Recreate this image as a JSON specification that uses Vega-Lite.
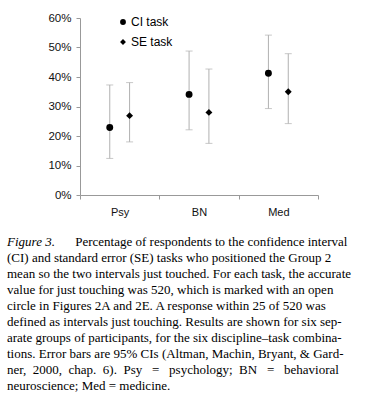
{
  "$schema": "https://vega.github.io/schema/vega-lite/v6.json",
  "width": 238,
  "height": 177,
  "autosize": {"type": "none"},
  "padding": {"left": 80, "top": 18, "right": 52, "bottom": 205},
  "background": "white",
  "config": {
    "view": {"stroke": null},
    "font": "Liberation Sans",
    "axisY": {
      "grid": false,
      "domainColor": "#999999",
      "tickColor": "#999999",
      "tickSize": 4,
      "labelFontSize": 11.5,
      "labelColor": "#111111",
      "labelFont": "Liberation Sans",
      "labelPadding": 5,
      "labelOverlap": false
    }
  },
  "title": {
    "text": "Figure 3.",
    "subtitle": [
      "\u200b\u00a0\u00a0\u00a0\u00a0\u00a0\u00a0\u00a0\u00a0\u00a0\u00a0\u00a0\u00a0\u00a0\u00a0\u00a0\u00a0\u00a0\u00a0\u00a0\u00a0\u00a0Percentage of respondents to the confidence interval",
      "(CI) and standard error (SE) tasks who positioned the Group 2",
      "mean so the two intervals just touched. For each task, the accurate",
      "value for just touching was 520, which is marked with an open",
      "circle in Figures 2A and 2E. A response within 25 of 520 was",
      "defined as intervals just touching. Results are shown for six sep-",
      "arate groups of participants, for the six discipline–task combina-",
      "tions. Error bars are 95% CIs (Altman, Machin, Bryant, & Gard-",
      "ner,\u00a0 2000,\u00a0 chap.\u00a0 6).\u00a0 Psy\u00a0\u00a0\u00a0=\u00a0\u00a0\u00a0psychology;\u00a0 BN\u00a0\u00a0\u00a0=\u00a0\u00a0\u00a0behavioral",
      "neuroscience; Med = medicine."
    ],
    "orient": "bottom",
    "anchor": "start",
    "frame": "group",
    "dx": -73,
    "offset": 19,
    "font": "Liberation Serif",
    "fontSize": 13,
    "fontStyle": "italic",
    "fontWeight": "normal",
    "color": "black",
    "subtitleFont": "Liberation Serif",
    "subtitleFontSize": 13,
    "subtitleFontStyle": "normal",
    "subtitleColor": "black",
    "subtitleLineHeight": 16,
    "subtitlePadding": -13
  },
  "data": {
    "values": [
      {"discipline": "Psy", "task": "CI task", "value": 0.229, "lo": 0.124, "hi": 0.373},
      {"discipline": "Psy", "task": "SE task", "value": 0.269, "lo": 0.180, "hi": 0.381},
      {"discipline": "BN", "task": "CI task", "value": 0.341, "lo": 0.221, "hi": 0.488},
      {"discipline": "BN", "task": "SE task", "value": 0.280, "lo": 0.175, "hi": 0.427},
      {"discipline": "Med", "task": "CI task", "value": 0.413, "lo": 0.293, "hi": 0.542},
      {"discipline": "Med", "task": "SE task", "value": 0.350, "lo": 0.242, "hi": 0.479}
    ]
  },
  "encoding": {
    "x": {
      "field": "discipline",
      "type": "nominal",
      "sort": ["Psy", "BN", "Med"],
      "scale": {"paddingInner": 0, "paddingOuter": 0},
      "axis": {
        "title": null,
        "labelAngle": 0,
        "tickBand": "extent",
        "tickSize": 4,
        "domainColor": "#999999",
        "tickColor": "#999999",
        "labelFontSize": 11,
        "labelColor": "#111111",
        "labelFont": "Liberation Sans",
        "labelPadding": 7
      }
    },
    "xOffset": {
      "field": "task",
      "type": "nominal",
      "scale": {"paddingInner": 0, "paddingOuter": 3.6}
    }
  },
  "layer": [
    {
      "mark": {"type": "rule", "color": "#b0b0b0", "strokeWidth": 1},
      "encoding": {
        "y": {
          "field": "lo",
          "type": "quantitative",
          "scale": {"domain": [0, 0.6]},
          "axis": {"title": null, "values": [0, 0.1, 0.2, 0.3, 0.4, 0.5, 0.6], "format": ".0%"}
        },
        "y2": {"field": "hi"}
      }
    },
    {
      "mark": {"type": "tick", "color": "#b0b0b0", "size": 7, "thickness": 1, "orient": "horizontal"},
      "encoding": {
        "y": {
          "field": "lo",
          "type": "quantitative",
          "axis": {"title": null, "values": [0, 0.1, 0.2, 0.3, 0.4, 0.5, 0.6], "format": ".0%"}
        }
      }
    },
    {
      "mark": {"type": "tick", "color": "#b0b0b0", "size": 7, "thickness": 1, "orient": "horizontal"},
      "encoding": {
        "y": {
          "field": "hi",
          "type": "quantitative",
          "axis": {"title": null, "values": [0, 0.1, 0.2, 0.3, 0.4, 0.5, 0.6], "format": ".0%"}
        }
      }
    },
    {
      "mark": {"type": "point", "filled": true, "color": "black", "opacity": 1, "size": 48},
      "encoding": {
        "y": {
          "field": "value",
          "type": "quantitative",
          "axis": {"title": null, "values": [0, 0.1, 0.2, 0.3, 0.4, 0.5, 0.6], "format": ".0%"}
        },
        "shape": {
          "field": "task",
          "type": "nominal",
          "scale": {"domain": ["CI task", "SE task"], "range": ["circle", "diamond"]},
          "legend": {
            "title": null,
            "orient": "none",
            "legendX": 37,
            "legendY": -2,
            "padding": 0,
            "symbolSize": 34,
            "symbolFillColor": "black",
            "symbolStrokeColor": "black",
            "symbolStrokeWidth": 0,
            "labelFontSize": 12,
            "labelFont": "Liberation Sans",
            "labelColor": "black",
            "labelOffset": 2,
            "rowPadding": 8
          }
        }
      }
    }
  ]
}
